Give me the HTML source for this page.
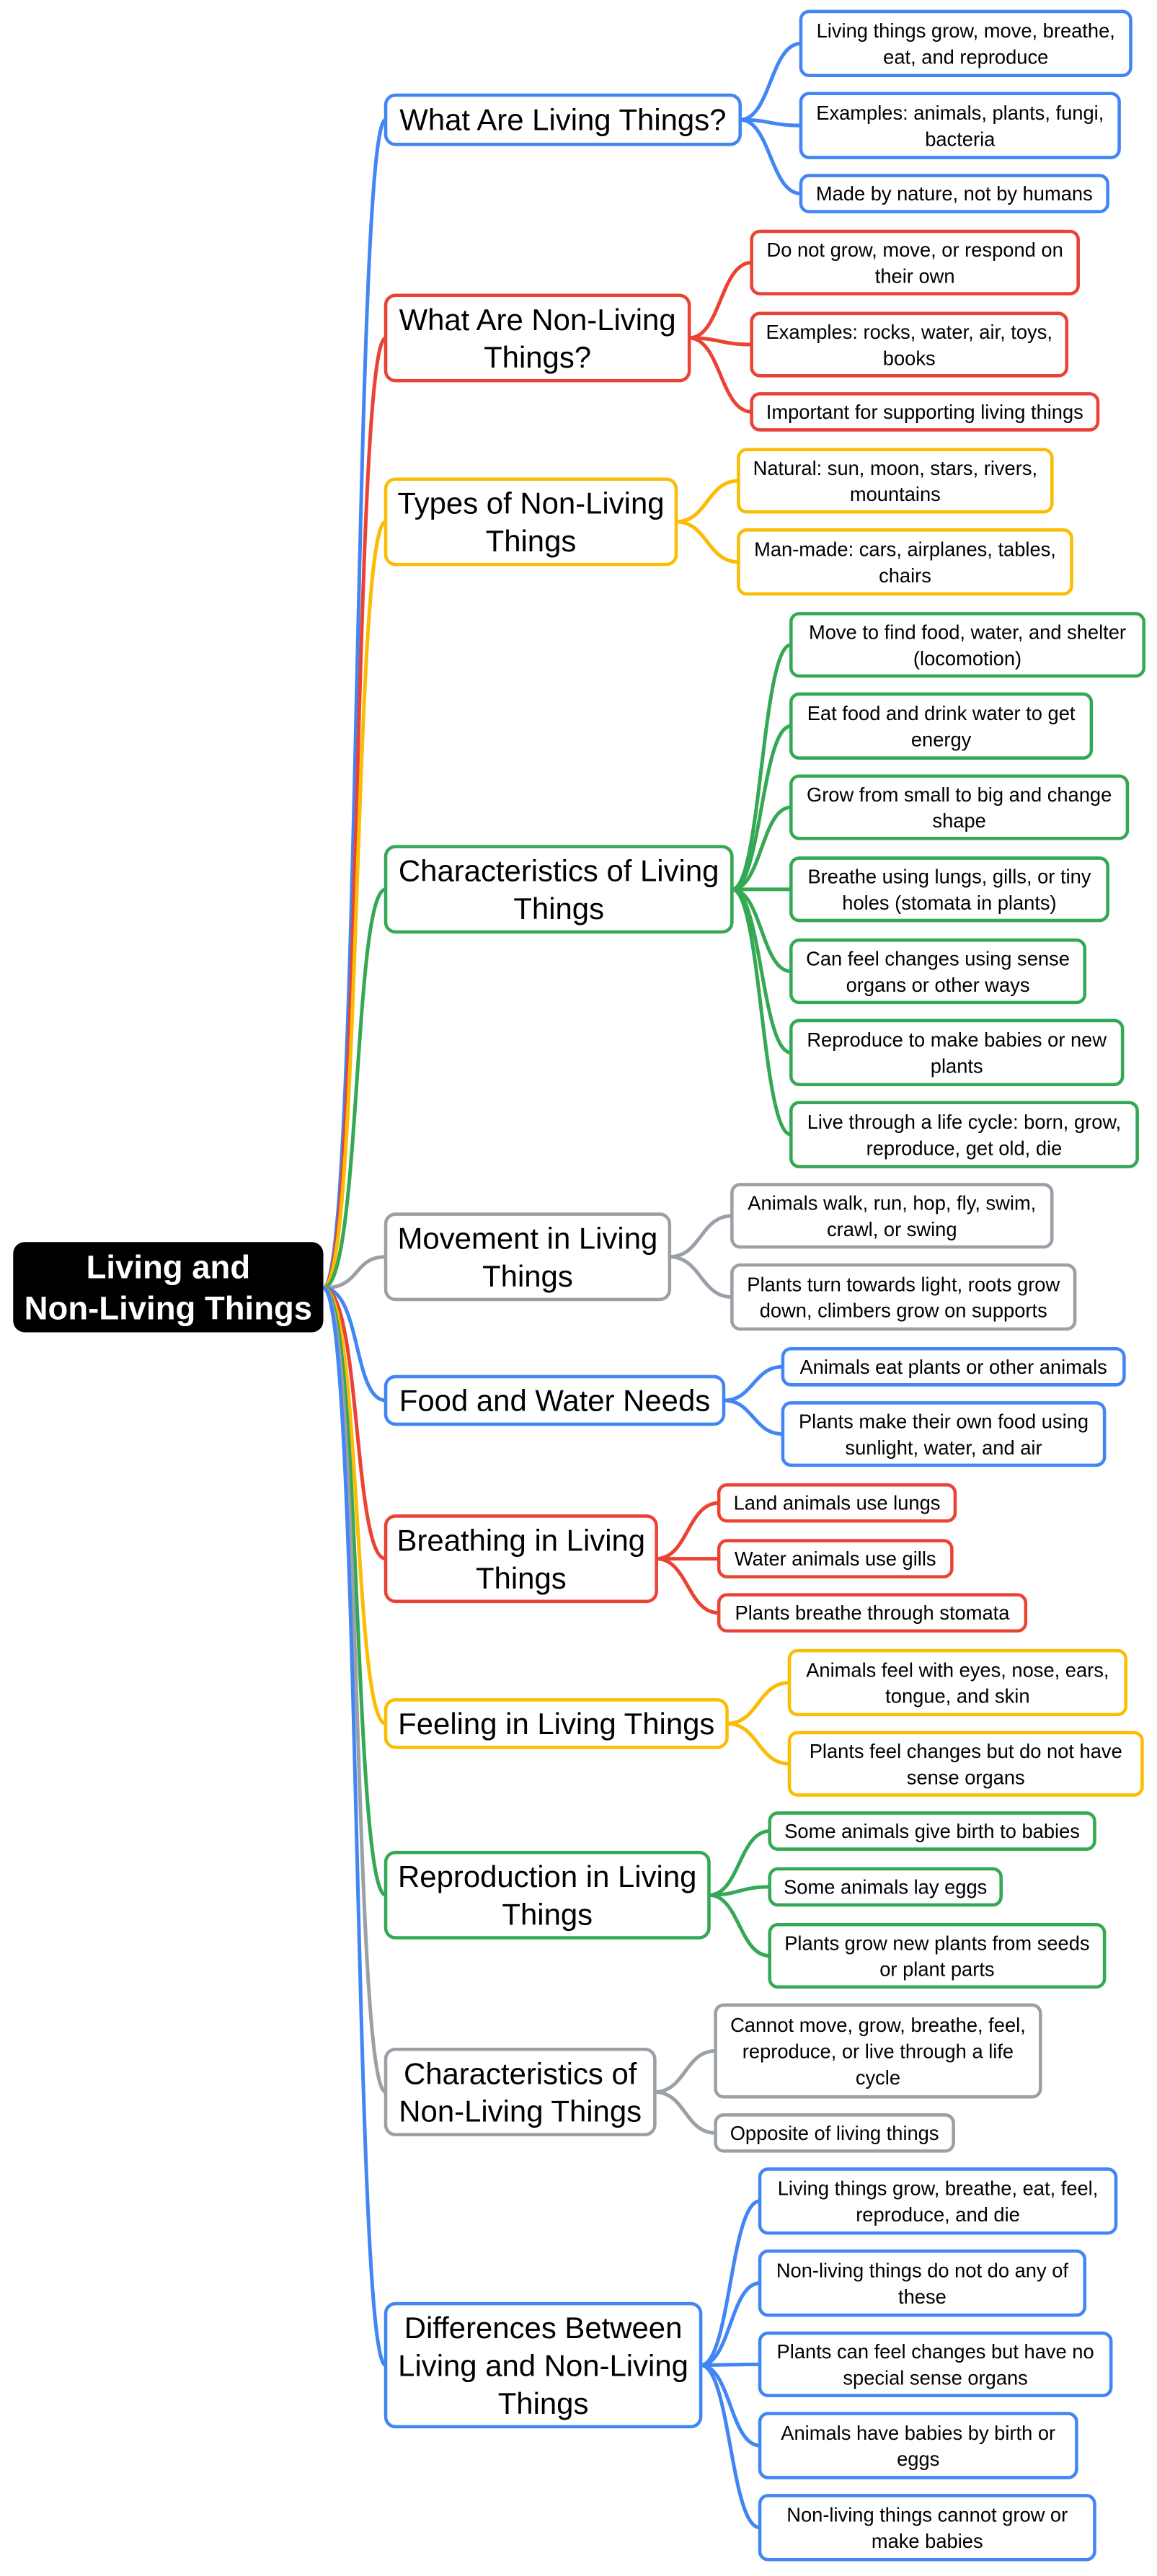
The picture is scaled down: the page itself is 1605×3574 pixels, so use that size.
<!DOCTYPE html>
<html><head><meta charset="utf-8"><style>
html,body{margin:0;padding:0;background:#fff;}
svg{display:block;}
text{font-family:"Liberation Sans",Arial,sans-serif;text-anchor:middle;dominant-baseline:central;fill:#000;}
.l{font-size:12px;}
.m{font-size:18.4px;}
.r{font-size:20px;font-weight:bold;fill:#fff;}
.c{fill:none;stroke-width:2.2;stroke-linecap:round;}
.b{fill:#fff;stroke-width:2;}
</style></head><body>
<svg width="1605" height="3574" viewBox="0 0 705 1570" xmlns="http://www.w3.org/2000/svg">
<g class="c">
<path d="M197 785 C220 785 215 73 235 73" stroke="#4285f4"/>
<path d="M197 785 C220 785 215 206 235 206" stroke="#ea4335"/>
<path d="M197 785 C220 785 215 318 235 318" stroke="#fbbc04"/>
<path d="M197 785 C220 785 215 542 235 542" stroke="#34a853"/>
<path d="M197 785 C220 785 215 766 235 766" stroke="#9aa0a6"/>
<path d="M197 785 C220 785 215 853.5 235 853.5" stroke="#4285f4"/>
<path d="M197 785 C220 785 215 950 235 950" stroke="#ea4335"/>
<path d="M197 785 C220 785 215 1050.5 235 1050.5" stroke="#fbbc04"/>
<path d="M197 785 C220 785 215 1155 235 1155" stroke="#34a853"/>
<path d="M197 785 C220 785 215 1275 235 1275" stroke="#9aa0a6"/>
<path d="M197 785 C220 785 215 1441.5 235 1441.5" stroke="#4285f4"/>
</g>
<g class="c" stroke="#4285f4">
<path d="M451 73 C469.5 73 469.5 26.5 488 26.5"/><path d="M451 73 C469.5 73 469.5 76.5 488 76.5"/><path d="M451 73 C469.5 73 469.5 118 488 118"/>
<path d="M441 853.5 C459 853.5 459 833 477 833"/><path d="M441 853.5 C459 853.5 459 874 477 874"/>
<path d="M427 1441.5 C445 1441.5 445 1341.5 463 1341.5"/><path d="M427 1441.5 C445 1441.5 445 1391.5 463 1391.5"/><path d="M427 1441.5 C445 1441.5 445 1441 463 1441"/><path d="M427 1441.5 C445 1441.5 445 1490.5 463 1490.5"/><path d="M427 1441.5 C445 1441.5 445 1540.5 463 1540.5"/>
</g>
<g class="c" stroke="#ea4335">
<path d="M420 206 C439 206 439 160 458 160"/><path d="M420 206 C439 206 439 210 458 210"/><path d="M420 206 C439 206 439 251 458 251"/>
<path d="M400 950 C419 950 419 916 438 916"/><path d="M400 950 C419 950 419 950 438 950"/><path d="M400 950 C419 950 419 983 438 983"/>
</g>
<g class="c" stroke="#fbbc04">
<path d="M412 318 C431 318 431 293 450 293"/><path d="M412 318 C431 318 431 342.5 450 342.5"/>
<path d="M443 1050.5 C462 1050.5 462 1025.5 481 1025.5"/><path d="M443 1050.5 C462 1050.5 462 1075 481 1075"/>
</g>
<g class="c" stroke="#34a853">
<path d="M446 542 C464 542 464 393 482 393"/><path d="M446 542 C464 542 464 442.5 482 442.5"/><path d="M446 542 C464 542 464 492 482 492"/><path d="M446 542 C464 542 464 542 482 542"/><path d="M446 542 C464 542 464 592 482 592"/><path d="M446 542 C464 542 464 641.5 482 641.5"/><path d="M446 542 C464 542 464 691.5 482 691.5"/>
<path d="M432 1155 C450.5 1155 450.5 1116 469 1116"/><path d="M432 1155 C450.5 1155 450.5 1150 469 1150"/><path d="M432 1155 C450.5 1155 450.5 1192 469 1192"/>
</g>
<g class="c" stroke="#9aa0a6">
<path d="M408 766 C427 766 427 741 446 741"/><path d="M408 766 C427 766 427 790.5 446 790.5"/>
<path d="M399 1275 C417.5 1275 417.5 1250 436 1250"/><path d="M399 1275 C417.5 1275 417.5 1300 436 1300"/>
</g>

<rect x="8" y="757" width="189" height="55" rx="7" fill="#000"/>
<text class="r"><tspan x="102.5" y="772">Living and</tspan><tspan x="102.5" y="797">Non-Living Things</tspan></text>

<g class="b" stroke="#4285f4">
<rect x="235" y="58" width="216" height="30" rx="6"/>
<rect x="235" y="839" width="206" height="29" rx="6"/>
<rect x="235" y="1404" width="192" height="75" rx="6"/>
</g>
<g class="b" stroke="#ea4335">
<rect x="235" y="180" width="185" height="52" rx="6"/>
<rect x="235" y="924" width="165" height="52" rx="6"/>
</g>
<g class="b" stroke="#fbbc04">
<rect x="235" y="292" width="177" height="52" rx="6"/>
<rect x="235" y="1036" width="208" height="29" rx="6"/>
</g>
<g class="b" stroke="#34a853">
<rect x="235" y="516" width="211" height="52" rx="6"/>
<rect x="235" y="1129" width="197" height="52" rx="6"/>
</g>
<g class="b" stroke="#9aa0a6">
<rect x="235" y="740" width="173" height="52" rx="6"/>
<rect x="235" y="1249" width="164" height="52" rx="6"/>
</g>
<g class="m">
<text x="343" y="73">What Are Living Things?</text>
<text><tspan x="327.5" y="194.5">What Are Non-Living</tspan><tspan x="327.5" y="217.5">Things?</tspan></text>
<text><tspan x="323.5" y="306.5">Types of Non-Living</tspan><tspan x="323.5" y="329.5">Things</tspan></text>
<text><tspan x="340.5" y="530.5">Characteristics of Living</tspan><tspan x="340.5" y="553.5">Things</tspan></text>
<text><tspan x="321.5" y="754.5">Movement in Living</tspan><tspan x="321.5" y="777.5">Things</tspan></text>
<text x="338" y="853.5">Food and Water Needs</text>
<text><tspan x="317.5" y="938.5">Breathing in Living</tspan><tspan x="317.5" y="961.5">Things</tspan></text>
<text x="339" y="1050.5">Feeling in Living Things</text>
<text><tspan x="333.5" y="1143.5">Reproduction in Living</tspan><tspan x="333.5" y="1166.5">Things</tspan></text>
<text><tspan x="317" y="1263.5">Characteristics of</tspan><tspan x="317" y="1286.5">Non-Living Things</tspan></text>
<text><tspan x="331" y="1418.5">Differences Between</tspan><tspan x="331" y="1441.5">Living and Non-Living</tspan><tspan x="331" y="1464.5">Things</tspan></text>
</g>

<g class="b" stroke="#4285f4">
<rect x="488" y="7" width="201" height="39" rx="5"/>
<rect x="488" y="57" width="194" height="39" rx="5"/>
<rect x="488" y="107" width="187" height="22" rx="5"/>
<rect x="477" y="822" width="208" height="22" rx="5"/>
<rect x="477" y="855" width="196" height="38" rx="5"/>
<rect x="463" y="1322" width="217" height="39" rx="5"/>
<rect x="463" y="1372" width="198" height="39" rx="5"/>
<rect x="463" y="1422" width="214" height="38" rx="5"/>
<rect x="463" y="1471" width="193" height="39" rx="5"/>
<rect x="463" y="1521" width="204" height="39" rx="5"/>
</g>
<g class="b" stroke="#ea4335">
<rect x="458" y="141" width="199" height="38" rx="5"/>
<rect x="458" y="191" width="192" height="38" rx="5"/>
<rect x="458" y="240" width="211" height="22" rx="5"/>
<rect x="438" y="905" width="144" height="22" rx="5"/>
<rect x="438" y="939" width="142" height="22" rx="5"/>
<rect x="438" y="972" width="187" height="22" rx="5"/>
</g>
<g class="b" stroke="#fbbc04">
<rect x="450" y="274" width="191" height="38" rx="5"/>
<rect x="450" y="323" width="203" height="39" rx="5"/>
<rect x="481" y="1006" width="205" height="39" rx="5"/>
<rect x="481" y="1056" width="215" height="38" rx="5"/>
</g>
<g class="b" stroke="#34a853">
<rect x="482" y="374" width="215" height="38" rx="5"/>
<rect x="482" y="423" width="183" height="39" rx="5"/>
<rect x="482" y="473" width="205" height="38" rx="5"/>
<rect x="482" y="523" width="193" height="38" rx="5"/>
<rect x="482" y="573" width="179" height="38" rx="5"/>
<rect x="482" y="622" width="202" height="39" rx="5"/>
<rect x="482" y="672" width="211" height="39" rx="5"/>
<rect x="469" y="1105" width="198" height="22" rx="5"/>
<rect x="469" y="1139" width="141" height="22" rx="5"/>
<rect x="469" y="1173" width="204" height="38" rx="5"/>
</g>
<g class="b" stroke="#9aa0a6">
<rect x="446" y="722" width="195" height="38" rx="5"/>
<rect x="446" y="771" width="209" height="39" rx="5"/>
<rect x="436" y="1222" width="198" height="56" rx="5"/>
<rect x="436" y="1289" width="145" height="22" rx="5"/>
</g>
<g class="l">
<text><tspan x="588.5" y="18.5">Living things grow, move, breathe,</tspan><tspan x="588.5" y="34.5">eat, and reproduce</tspan></text>
<text><tspan x="585" y="68.5">Examples: animals, plants, fungi,</tspan><tspan x="585" y="84.5">bacteria</tspan></text>
<text x="581.5" y="118">Made by nature, not by humans</text>

<text><tspan x="557.5" y="152">Do not grow, move, or respond on</tspan><tspan x="557.5" y="168">their own</tspan></text>
<text><tspan x="554" y="202">Examples: rocks, water, air, toys,</tspan><tspan x="554" y="218">books</tspan></text>
<text x="563.5" y="251">Important for supporting living things</text>

<text><tspan x="545.5" y="285">Natural: sun, moon, stars, rivers,</tspan><tspan x="545.5" y="301">mountains</tspan></text>
<text><tspan x="551.5" y="334.5">Man-made: cars, airplanes, tables,</tspan><tspan x="551.5" y="350.5">chairs</tspan></text>

<text><tspan x="589.5" y="385">Move to find food, water, and shelter</tspan><tspan x="589.5" y="401">(locomotion)</tspan></text>
<text><tspan x="573.5" y="434.5">Eat food and drink water to get</tspan><tspan x="573.5" y="450.5">energy</tspan></text>
<text><tspan x="584.5" y="484">Grow from small to big and change</tspan><tspan x="584.5" y="500">shape</tspan></text>
<text><tspan x="578.5" y="534">Breathe using lungs, gills, or tiny</tspan><tspan x="578.5" y="550">holes (stomata in plants)</tspan></text>
<text><tspan x="571.5" y="584">Can feel changes using sense</tspan><tspan x="571.5" y="600">organs or other ways</tspan></text>
<text><tspan x="583" y="633.5">Reproduce to make babies or new</tspan><tspan x="583" y="649.5">plants</tspan></text>
<text><tspan x="587.5" y="683.5">Live through a life cycle: born, grow,</tspan><tspan x="587.5" y="699.5">reproduce, get old, die</tspan></text>

<text><tspan x="543.5" y="733">Animals walk, run, hop, fly, swim,</tspan><tspan x="543.5" y="749">crawl, or swing</tspan></text>
<text><tspan x="550.5" y="782.5">Plants turn towards light, roots grow</tspan><tspan x="550.5" y="798.5">down, climbers grow on supports</tspan></text>

<text x="581" y="833">Animals eat plants or other animals</text>
<text><tspan x="575" y="866">Plants make their own food using</tspan><tspan x="575" y="882">sunlight, water, and air</tspan></text>

<text x="510" y="916">Land animals use lungs</text>
<text x="509" y="950">Water animals use gills</text>
<text x="531.5" y="983">Plants breathe through stomata</text>

<text><tspan x="583.5" y="1017.5">Animals feel with eyes, nose, ears,</tspan><tspan x="583.5" y="1033.5">tongue, and skin</tspan></text>
<text><tspan x="588.5" y="1067">Plants feel changes but do not have</tspan><tspan x="588.5" y="1083">sense organs</tspan></text>

<text x="568" y="1116">Some animals give birth to babies</text>
<text x="539.5" y="1150">Some animals lay eggs</text>
<text><tspan x="571" y="1184">Plants grow new plants from seeds</tspan><tspan x="571" y="1200">or plant parts</tspan></text>

<text><tspan x="535" y="1234">Cannot move, grow, breathe, feel,</tspan><tspan x="535" y="1250">reproduce, or live through a life</tspan><tspan x="535" y="1266">cycle</tspan></text>
<text x="508.5" y="1300">Opposite of living things</text>

<text><tspan x="571.5" y="1333.5">Living things grow, breathe, eat, feel,</tspan><tspan x="571.5" y="1349.5">reproduce, and die</tspan></text>
<text><tspan x="562" y="1383.5">Non-living things do not do any of</tspan><tspan x="562" y="1399.5">these</tspan></text>
<text><tspan x="570" y="1433">Plants can feel changes but have no</tspan><tspan x="570" y="1449">special sense organs</tspan></text>
<text><tspan x="559.5" y="1482.5">Animals have babies by birth or</tspan><tspan x="559.5" y="1498.5">eggs</tspan></text>
<text><tspan x="565" y="1532.5">Non-living things cannot grow or</tspan><tspan x="565" y="1548.5">make babies</tspan></text>
</g>
</svg>
</body></html>
